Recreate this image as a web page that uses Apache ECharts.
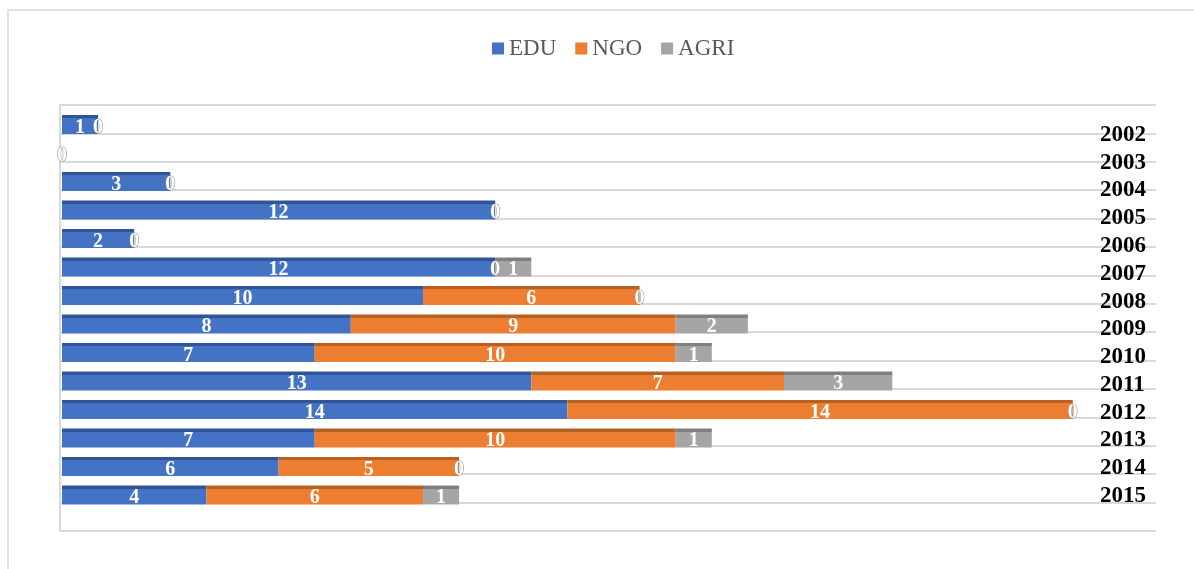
<!DOCTYPE html>
<html>
<head>
<meta charset="utf-8">
<script src="https://cdn.jsdelivr.net/npm/echarts@6/dist/echarts.min.js"></script>
<style>html,body{margin:0;padding:0;background:#fff}#c{width:1194px;height:569px}</style>
</head>
<body>
<div id="c"></div>
<script>
const years = ['2002','2003','2004','2005','2006','2007','2008','2009','2010','2011','2012','2013','2014','2015'];
const edu  = [1, 0, 3, 12, 2, 12, 10, 8, 7, 13, 14, 7, 6, 4];
const ngo  = [0, null, 0, 0, 0, 0, 6, 9, 10, 7, 14, 10, 5, 6];
const agri = [null, null, null, null, null, 1, 0, 2, 1, 3, 0, 1, 0, 1];
const seriesNames = ['EDU', 'NGO', 'AGRI'];
const gridSteps = [0,1,2,3,4,5,6,7,8,9,10,11,12,13,14,15];

const FONT = 'Liberation Serif';
const colors = ['#4472C4', '#ED7D31', '#A5A5A5'];
const darks  = ['#2F5597', '#B85F22', '#7F7F7F'];

function fill(i) {
  return new echarts.graphic.LinearGradient(0, 0, 0, 1, [
    {offset: 0, color: darks[i]}, {offset: 0.17, color: darks[i]},
    {offset: 0.17, color: colors[i]}, {offset: 1, color: colors[i]}
  ]);
}
function items(arr) {
  return arr.map(v => {
    if (v === 0) return {value: 0, label: {textBorderColor: '#8a8a8a', textBorderWidth: 1}};
    return v;
  });
}
const all = [edu, ngo, agri];

const chart = echarts.init(document.getElementById('c'), null, {renderer: 'canvas'});
chart.setOption({
  backgroundColor: '#ffffff',
  animation: false,
  graphic: [{
    type: 'rect', silent: true, z: -10,
    shape: {x: 8, y: 10, width: 1200, height: 600},
    style: {fill: 'none', stroke: '#d9d9d9', lineWidth: 1.5}
  }],
  legend: {
    data: seriesNames.map((n, i) => ({name: n, itemStyle: {color: colors[i]}})),
    left: 487, top: 32,
    icon: 'rect', itemWidth: 12, itemHeight: 12, itemGap: 19,
    textStyle: {fontFamily: FONT, fontSize: 23, color: '#595959'}
  },
  grid: [
    {left: 62, right: 49, top: 110.3, bottom: 59.75},
    {left: 1090, width: 8, top: 121.1, bottom: 59.1},
    {left: 60, right: 38, top: 105, bottom: 38}
  ],
  xAxis: [
    {gridIndex: 0, type: 'value', min: 0, max: 30, show: false},
    {gridIndex: 1, type: 'value', show: false},
    {gridIndex: 2, type: 'value', show: false}
  ],
  yAxis: [
    {gridIndex: 0, type: 'category', data: years, inverse: true, show: false},
    {gridIndex: 1, type: 'category', data: years, inverse: true, position: 'right',
     axisLine: {show: false}, axisTick: {show: false},
     axisLabel: {interval: 0, margin: 2, fontFamily: FONT, fontSize: 23, fontWeight: 'bold', color: '#000'}},
    {gridIndex: 2, type: 'value', min: gridSteps[0], max: gridSteps[gridSteps.length - 1], interval: 1,
     axisLabel: {show: false}, axisTick: {show: false},
     axisLine: {show: true, lineStyle: {color: '#d9d9d9', width: 2}},
     splitLine: {show: true, lineStyle: {color: '#d9d9d9', width: 2}}}
  ],
  series: seriesNames.map((name, i) => ({
    name: name,
    type: 'bar',
    stack: 'total',
    xAxisIndex: 0, yAxisIndex: 0,
    barWidth: 19,
    data: items(all[i]),
    itemStyle: {color: fill(i)},
    label: {
      show: true, position: 'inside', offset: [0, 3],
      color: '#fff', fontFamily: FONT, fontSize: 20, fontWeight: 'bold'
    }
  }))
});
</script>
</body>
</html>
